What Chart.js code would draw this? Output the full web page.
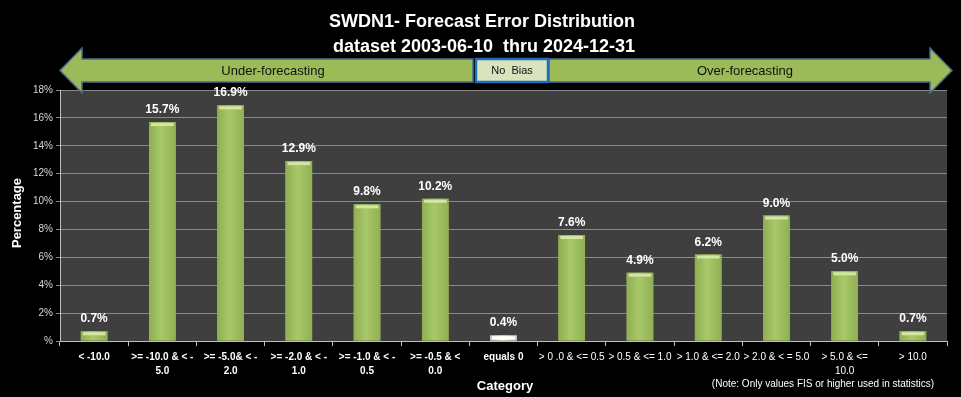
<!DOCTYPE html>
<html>
<head>
<meta charset="utf-8">
<script src="https://cdn.jsdelivr.net/npm/chart.js@4.4.1/dist/chart.umd.min.js"></script>
<style>
  html, body { margin: 0; padding: 0; background: #000; }
  #wrap { width: 961px; height: 397px; }
</style>
</head>
<body>
<div id="wrap"><canvas id="error-chart"></canvas></div>
<script>
var categories = [
    '< -10.0',
    ['>= -10.0 & < -', '5.0'],
    ['>= -5.0& < -', '2.0'],
    ['>= -2.0 & < -', '1.0'],
    ['>= -1.0 & < -', '0.5'],
    ['>= -0.5 & <', '0.0'],
    'equals 0',
    '> 0 .0 & <= 0.5',
    '> 0.5 & <= 1.0',
    '> 1.0 & <= 2.0',
    '> 2.0 & < = 5.0',
    ['> 5.0 & <=', '10.0'],
    '> 10.0'
];
var percentages = [0.7, 15.7, 16.9, 12.9, 9.8, 10.2, 0.4, 7.6, 4.9, 6.2, 9.0, 5.0, 0.7];
var titleLines = ['SWDN1- Forecast Error Distribution', 'dataset 2003-06-10  thru 2024-12-31'];

var FONT = "'Liberation Sans', Arial, sans-serif";

function arrowShape(ctx, x0, x1, pointLeft, pointRight) {
    var top = 59, bot = 82, mid = 70.5, hTop = 48, hBot = 93, head = 22;
    ctx.beginPath();
    if (pointLeft) {
        ctx.moveTo(x0, mid);
        ctx.lineTo(x0 + head, hTop);
        ctx.lineTo(x0 + head, top);
    } else {
        ctx.moveTo(x0, top);
    }
    if (pointRight) {
        ctx.lineTo(x1 - head, top);
        ctx.lineTo(x1 - head, hTop);
        ctx.lineTo(x1, mid);
        ctx.lineTo(x1 - head, hBot);
        ctx.lineTo(x1 - head, bot);
    } else {
        ctx.lineTo(x1, top);
        ctx.lineTo(x1, bot);
    }
    if (pointLeft) {
        ctx.lineTo(x0 + head, bot);
        ctx.lineTo(x0 + head, hBot);
    } else {
        ctx.lineTo(x0, bot);
    }
    ctx.closePath();
    ctx.fillStyle = '#9bbb59';
    ctx.fill();
    ctx.lineWidth = 1.5;
    ctx.strokeStyle = '#4f6a8c';
    ctx.stroke();
}

// background, banner, titles and value labels
var decor = {
    id: 'decor',
    beforeDraw: function (chart) {
        var ctx = chart.ctx, a = chart.chartArea;
        ctx.save();
        ctx.fillStyle = '#000';
        ctx.fillRect(0, 0, chart.width, chart.height);
        ctx.fillStyle = '#3f3f3f';
        ctx.fillRect(a.left, a.top, a.right - a.left, a.bottom - a.top);
        ctx.restore();
    },
    afterDatasetsDraw: function (chart) {
        // shaded look over each bar: darker edges, light middle, bevel on top
        var ctx = chart.ctx;
        ctx.save();
        chart.getDatasetMeta(0).data.forEach(function (bar, i) {
            var x0 = bar.x - bar.width / 2, x1 = bar.x + bar.width / 2;
            var white = categories[i] === 'equals 0';
            var g = ctx.createLinearGradient(x0, 0, x1, 0);
            if (white) {
                g.addColorStop(0, '#c8c8c8');
                g.addColorStop(0.45, '#ffffff');
                g.addColorStop(1, '#cfcfcf');
            } else {
                g.addColorStop(0, '#8eae4f');
                g.addColorStop(0.45, '#a9c869');
                g.addColorStop(1, '#91b052');
            }
            ctx.fillStyle = g;
            ctx.fillRect(x0, bar.y, bar.width, bar.base - bar.y);
            ctx.fillStyle = white ? '#ffffff' : '#d3e6a4';
            ctx.fillRect(x0 + 2, bar.y + 1, bar.width - 4, 3);
        });
        ctx.restore();
    },
    afterDraw: function (chart) {
        var ctx = chart.ctx;
        ctx.save();
        // titles
        ctx.fillStyle = '#fff';
        ctx.textAlign = 'center';
        ctx.textBaseline = 'middle';
        ctx.font = 'bold 18px ' + FONT;
        ctx.fillText(titleLines[0], 482, 22);
        ctx.fillText(titleLines[1], 484, 47);

        // banner arrows
        arrowShape(ctx, 60, 473, true, false);
        arrowShape(ctx, 549, 952, false, true);
        ctx.fillStyle = '#d7e4bd';
        ctx.fillRect(476, 59, 72, 23);
        ctx.lineWidth = 2.5;
        ctx.strokeStyle = '#1f6dbd';
        ctx.strokeRect(476, 59, 72, 23);
        ctx.fillStyle = '#111';
        ctx.font = '13px ' + FONT;
        ctx.fillText('Under-forecasting', 273, 71);
        ctx.fillText('Over-forecasting', 745, 71);
        ctx.font = '11px ' + FONT;
        ctx.fillText('No  Bias', 512, 71);

        // axis titles and note
        ctx.fillStyle = '#fff';
        ctx.font = 'bold 13px ' + FONT;
        ctx.fillText('Category', 505, 386);
        ctx.save();
        ctx.translate(17, 213);
        ctx.rotate(-Math.PI / 2);
        ctx.fillText('Percentage', 0, 0);
        ctx.restore();
        ctx.font = '10px ' + FONT;
        ctx.fillText('(Note: Only values FIS or higher used in statistics)', 823, 384);

        // value labels
        var meta = chart.getDatasetMeta(0);
        ctx.font = 'bold 12px ' + FONT;
        ctx.textBaseline = 'alphabetic';
        meta.data.forEach(function (bar, i) {
            ctx.fillText(percentages[i].toFixed(1) + '%', bar.x, bar.y - 9);
        });
        ctx.restore();
    }
};

var ctx = document.getElementById('error-chart').getContext('2d');
var chart = new Chart(ctx, {
    type: 'bar',
    data: {
        labels: categories,
        datasets: [{
            label: 'Percentage',
            data: percentages,
            backgroundColor: '#9bbb59',
            borderWidth: 0,
            barPercentage: 0.39,
            categoryPercentage: 1
        }]
    },
    plugins: [decor],
    options: {
        responsive: true,
        maintainAspectRatio: false,
        animation: false,
        layout: { padding: { top: 90, right: 14, left: 0, bottom: 0 } },
        plugins: {
            legend: { display: false },
            title: { display: false },
            tooltip: { enabled: false }
        },
        scales: {
            x: {
                afterFit: function (s) { s.height = 56; },
                grid: {
                    drawOnChartArea: false,
                    color: '#bfbfbf',
                    tickLength: 5,
                    offset: true
                },
                border: { color: '#bfbfbf' },
                ticks: {
                    color: '#fff',
                    font: function (c) {
                        return { family: FONT, size: 10, weight: c.index <= 6 ? 'bold' : 'normal', lineHeight: 1.4 };
                    },
                    maxRotation: 0,
                    autoSkip: false,
                    padding: 4
                }
            },
            y: {
                min: 0,
                max: 18,
                afterFit: function (s) { s.width = 60; },
                grid: { color: '#8a8a8a', tickLength: 4 },
                border: { color: '#bfbfbf' },
                ticks: {
                    stepSize: 2,
                    color: '#d9d9d9',
                    font: { family: FONT, size: 10 },
                    padding: 3,
                    callback: function (v) { return (v === 0 ? '' : v) + '%'; }
                }
            }
        }
    }
});
</script>
</body>
</html>
